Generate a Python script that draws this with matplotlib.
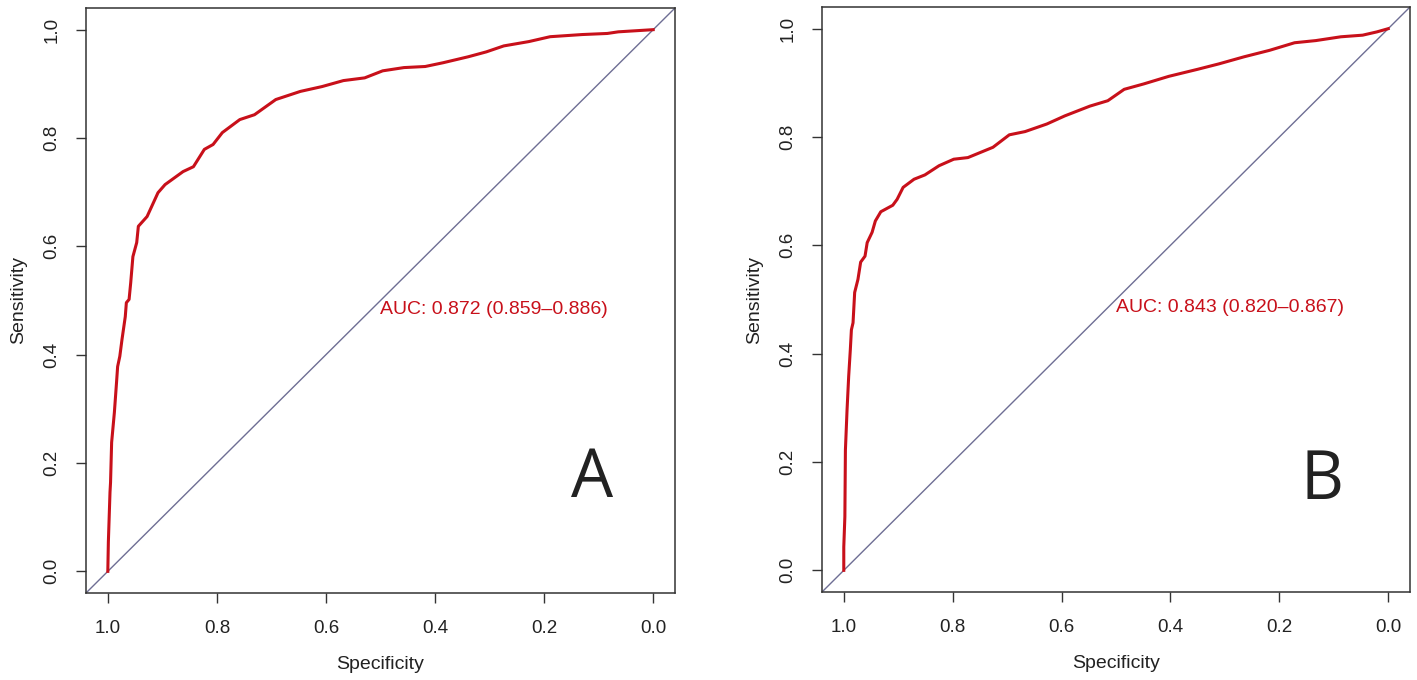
import matplotlib
matplotlib.use("Agg")
import matplotlib.pyplot as plt

plt.rcParams['font.family'] = ['Liberation Sans', 'DejaVu Sans']

# ROC curve A (specificity, sensitivity)
spec_a = [1.000, 0.999, 0.996, 0.995, 0.993, 0.988, 0.984, 0.982, 0.978, 0.974,
          0.968, 0.966, 0.961, 0.958, 0.954, 0.947, 0.944, 0.928, 0.908, 0.895,
          0.862, 0.843, 0.823, 0.807, 0.790, 0.758, 0.731, 0.692, 0.647, 0.607,
          0.568, 0.529, 0.496, 0.457, 0.418, 0.385, 0.339, 0.306, 0.274, 0.228,
          0.189, 0.130, 0.084, 0.064, 0.032, 0.000]
sens_a = [0.000, 0.054, 0.146, 0.164, 0.238, 0.293, 0.349, 0.378, 0.397, 0.428,
          0.470, 0.496, 0.502, 0.533, 0.581, 0.607, 0.637, 0.655, 0.699, 0.714,
          0.738, 0.747, 0.779, 0.788, 0.810, 0.834, 0.843, 0.871, 0.886, 0.895,
          0.906, 0.911, 0.924, 0.930, 0.932, 0.939, 0.950, 0.959, 0.970, 0.978,
          0.987, 0.991, 0.993, 0.996, 0.998, 1.000]

# ROC curve B
spec_b = [1.000, 1.000, 0.998, 0.997, 0.994, 0.991, 0.988, 0.986, 0.983, 0.980,
          0.974, 0.969, 0.961, 0.957, 0.948, 0.942, 0.932, 0.910, 0.902, 0.891,
          0.871, 0.851, 0.825, 0.798, 0.772, 0.726, 0.696, 0.667, 0.627, 0.594,
          0.548, 0.515, 0.485, 0.449, 0.403, 0.350, 0.311, 0.265, 0.218, 0.172,
          0.133, 0.087, 0.047, 0.021, 0.000]
sens_b = [0.000, 0.043, 0.099, 0.222, 0.296, 0.358, 0.407, 0.444, 0.457, 0.513,
          0.537, 0.569, 0.580, 0.605, 0.624, 0.645, 0.662, 0.674, 0.685, 0.707,
          0.722, 0.730, 0.747, 0.759, 0.762, 0.781, 0.804, 0.810, 0.824, 0.839,
          0.857, 0.867, 0.888, 0.898, 0.912, 0.925, 0.935, 0.948, 0.960, 0.974,
          0.978, 0.985, 0.988, 0.994, 1.000]

auc_labels = ["AUC: 0.872 (0.859\u20130.886)", "AUC: 0.843 (0.820\u20130.867)"]
panel_labels = ["A", "B"]
ticks = [0.0, 0.2, 0.4, 0.6, 0.8, 1.0]

red = '#c8101a'
frame = '#333333'

fig = plt.figure(figsize=(14.17, 6.80), dpi=100)
boxes = [[86/1417, 1-593/680, 589/1417, 585/680],
         [822/1417, 1-592/680, 588/1417, 585/680]]
curves = [(spec_a, sens_a), (spec_b, sens_b)]
letter_pos = [(0.859, 0.195), (0.850, 0.19)]

for i in range(2):
    ax = fig.add_axes(boxes[i])
    spec, sens = curves[i]
    ax.axline((1, 0), (0, 1), color='#6e6e94', lw=1.0, zorder=1)
    ax.plot(spec, sens, color=red, lw=2.2, zorder=2)
    ax.set_xlim(1.04, -0.04)
    ax.set_ylim(-0.04, 1.04)
    ax.set_xticks(ticks)
    ax.set_yticks(ticks)
    ax.set_xticklabels(["%.1f" % t for t in ticks])
    ax.set_yticklabels(["%.1f" % t for t in ticks], rotation=90, va='center')
    ax.tick_params(length=7.5, width=1.0, color=frame, labelsize=13.5,
                   labelcolor='#222222')
    ax.tick_params(axis='x', pad=12)
    ax.tick_params(axis='y', pad=11)
    for s in ax.spines.values():
        s.set_color(frame)
        s.set_linewidth(1.1)
    ax.set_xlabel('Specificity', fontsize=14, color='#222222', va='center')
    ax.set_ylabel('Sensitivity', fontsize=14, color='#222222', va='center')
    ax.xaxis.set_label_coords(0.5, -0.122)
    ax.yaxis.set_label_coords(-0.115, 0.5)
    ax.text(0.5, 0.5, auc_labels[i], color=red, fontsize=14,
            ha='left', va='top')
    ax.text(letter_pos[i][0], letter_pos[i][1], panel_labels[i],
            transform=ax.transAxes, fontsize=48, color='#222222',
            family=['Open Sans', 'DejaVu Sans'], ha='center', va='center')

fig.savefig('out.png', dpi=100)
